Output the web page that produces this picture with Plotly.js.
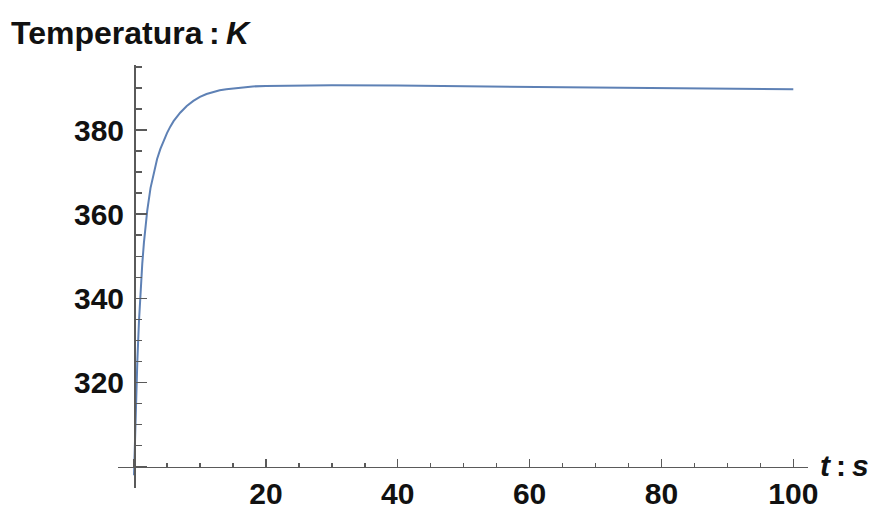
<!DOCTYPE html>
<html>
<head>
<meta charset="utf-8">
<script src="https://cdn.plot.ly/plotly-3.0.1.min.js"></script>
<style>html,body{margin:0;padding:0;background:#fff;}#chart{width:878px;height:512px;}</style>
</head>
<body>
<div id="chart"></div>
<script>
// Time (s)
const timeS = [0, 0.1, 0.25, 0.5, 0.75, 1, 1.25, 1.5, 2, 2.5, 3, 3.5, 4, 4.5, 5, 5.5, 6, 7, 8, 9, 10, 11, 12, 13, 14, 16, 18, 20, 25, 30, 40, 50, 60, 70, 80, 90, 100];
// Temperature (K)
const tempK = [298, 304.5, 313, 325, 334.5, 342, 348.2, 353.2, 360.8, 366.2, 370.1, 373.1, 375.5, 377.45, 379.25, 380.8, 382.1, 384.1, 385.7, 386.9, 387.85, 388.55, 389.05, 389.42, 389.7, 390.1, 390.35, 390.48, 390.58, 390.62, 390.55, 390.4, 390.2, 390.05, 389.9, 389.75, 389.65];

const xTickVals = [0, 20, 40, 60, 80, 100];
const xTickText = ['', '20', '40', '60', '80', '100'];
const yTickVals = [300, 320, 340, 360, 380];
const yTickText = ['', '320', '340', '360', '380'];
const xMinorVals = [5,10,15,25,30,35,45,50,55,65,70,75,85,90,95];
const yMinorVals = [295,305,310,315,325,330,335,345,350,355,365,370,375,385,390,395];

const xRange = [-2.43, 102.23];
const yRange = [294.96, 395.44];
const xCross = 300, yCross = 0;

const axisColor = '#5a5a5a';
const fontFam = '"Liberation Sans", Arial, sans-serif';

const layout = {
  width: 878, height: 512,
  margin: {l: 118, r: 70, t: 65, b: 24},
  paper_bgcolor: '#fff', plot_bgcolor: '#fff',
  showlegend: false,
  xaxis: {
    range: xRange, anchor: 'free',
    position: (xCross - yRange[0]) / (yRange[1] - yRange[0]),
    showgrid: false, zeroline: false,
    showline: true, linecolor: axisColor, linewidth: 1.5,
    tickmode: 'array', tickvals: xTickVals, ticktext: xTickText,
    ticks: 'inside', ticklen: 8, tickwidth: 1.5, tickcolor: axisColor,
    minor: {tickmode: 'array', tickvals: xMinorVals, ticks: 'inside', ticklen: 4, tickwidth: 1.5, tickcolor: axisColor, showgrid: false},
    tickfont: {family: fontFam, size: 30, color: '#111', weight: 'bold'},
    ticklabelstandoff: 0
  },
  yaxis: {
    range: yRange, anchor: 'free',
    position: (yCross - xRange[0]) / (xRange[1] - xRange[0]),
    showgrid: false, zeroline: false,
    showline: true, linecolor: axisColor, linewidth: 1.5,
    tickmode: 'array', tickvals: yTickVals, ticktext: yTickText,
    ticks: 'inside', ticklen: 11, tickwidth: 1.5, tickcolor: axisColor,
    minor: {tickmode: 'array', tickvals: yMinorVals, ticks: 'inside', ticklen: 6, tickwidth: 1.5, tickcolor: axisColor, showgrid: false},
    tickfont: {family: fontFam, size: 30, color: '#111', weight: 'bold'},
    ticklabelstandoff: 4
  },
  annotations: [
    {text: '<b>Temperatura\u2009:\u2009<i>K</i></b>', xref: 'paper', yref: 'paper',
     x: (9 - 118) / 690, y: 1 + (65 - 33) / 423, xanchor: 'left', yanchor: 'middle',
     showarrow: false, font: {family: fontFam, size: 32, color: '#111'}},
    {text: '<b><i>t</i>\u2009:\u2009<i>s</i></b>', xref: 'paper', yref: 'paper',
     x: (818 - 118) / 690, y: (512 - 24 - 465) / 423, xanchor: 'left', yanchor: 'middle',
     showarrow: false, font: {family: fontFam, size: 30, color: '#111'}}
  ]
};

const data = [{
  x: timeS, y: tempK, type: 'scatter', mode: 'lines',
  line: {color: '#5e81b5', width: 2},
  hoverinfo: 'skip'
}];

Plotly.newPlot('chart', data, layout, {staticPlot: true, displayModeBar: false});
</script>
</body>
</html>
